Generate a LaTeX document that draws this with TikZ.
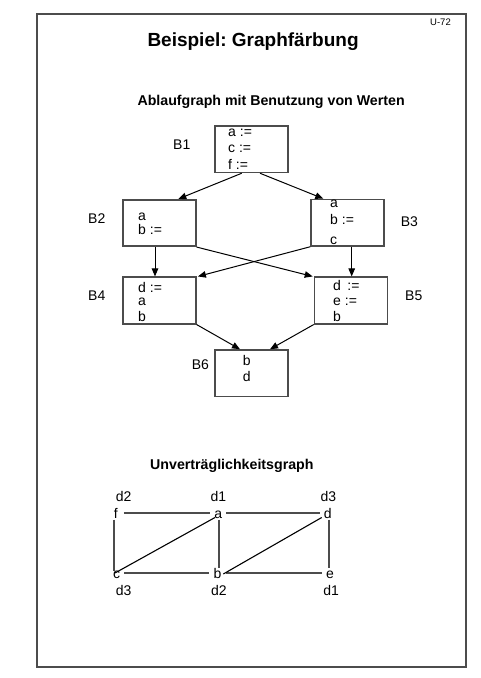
\documentclass[tikz,border=0pt]{standalone}
\usepackage{fontspec}
\setmainfont{Liberation Sans}
\usetikzlibrary{arrows.meta}
\definecolor{linegray}{gray}{0.3}
\frenchspacing
\begin{document}
\begin{tikzpicture}[x=1pt,y=-1pt,
  txt/.style={anchor=base west,inner sep=0pt,font=\fontsize{14}{16}\selectfont},
  ttl/.style={anchor=base west,inner sep=0pt,font=\fontsize{19}{22}\selectfont\bfseries},
  sub/.style={anchor=base west,inner sep=0pt,font=\fontsize{14.2}{17}\selectfont\bfseries},
  blk/.style={draw=linegray,line width=1.6pt,minimum width=73pt,minimum height=46.5pt,inner sep=0pt},
  flow/.style={-{Triangle[length=8pt,width=6.5pt]},line width=1pt},
  vtx/.style={anchor=base,inner sep=1pt,text height=1.1em,text depth=0pt,font=\fontsize{14}{16}\selectfont},
  clash/.style={draw=linegray,line width=2.8pt},
  diag/.style={line width=1.1pt}
]
\useasboundingbox (0,0) rectangle (480,678);
\fill[white] (0,0) rectangle (480,678);
\draw[linegray,line width=1.7pt] (36.7,14) rectangle (465.7,666.7);

% titles
\node[anchor=base west,inner sep=0pt,font=\fontsize{9.5}{11}\selectfont] (page) at (430,25) {U-72};
\node[ttl] (title) at (147.3,46.7) {Beispiel: Graphfärbung};
\node[sub] (sub1) at (137.3,105) {Ablaufgraph mit Benutzung von Werten};
\node[sub] (sub2) at (150,469) {Unverträglichkeitsgraph};

% blocks
\node[blk] (B1) at (251.3,149.2) {};
\node[blk] (B2) at (159.3,223) {};
\node[blk] (B3) at (347.5,222.7) {};
\node[blk] (B4) at (159.3,300.5) {};
\node[blk] (B5) at (351,300.5) {};
\node[blk] (B6) at (251.3,373.3) {};

% block labels
\node[txt] (l1) at (173,149) {B1};
\node[txt] (l2) at (88,223.3) {B2};
\node[txt] (l3) at (400.7,226.7) {B3};
\node[txt] (l4) at (88,300.7) {B4};
\node[txt] (l5) at (405,300.7) {B5};
\node[txt] (l6) at (191.7,369) {B6};

% block contents
\node[txt] (t11) at (228,136.7) {a :=};
\node[txt] (t12) at (228,152.3) {c :=};
\node[txt] (t13) at (228,169.3) {f :=};
\node[txt] (t21) at (138,220) {a};
\node[txt] (t22) at (138,234) {b :=};
\node[txt] (t31) at (330,207.3) {a};
\node[txt] (t32) at (330,224) {b :=};
\node[txt] (t33) at (330,244) {c};
\node[txt] (t41) at (138,292.3) {d :=};
\node[txt] (t42) at (138,305) {a};
\node[txt] (t43) at (138,321.7) {b};
\node[txt] (t51) at (333,290) {d\hspace{2.5pt} :=};
\node[txt] (t52) at (333,305) {e :=};
\node[txt] (t53) at (333,321.7) {b};
\node[txt] (t61) at (242.7,365) {b};
\node[txt] (t62) at (242.7,381.7) {d};

% flow arrows
\draw[flow] ([xshift=-9.6pt]B1.south) -- ([xshift=19pt]B2.north);
\draw[flow] ([xshift=8.7pt]B1.south) -- ([xshift=-24.2pt]B3.north);
\draw[flow] ([xshift=-4.3pt]B2.south) -- ([xshift=-4.3pt]B4.north);
\draw[flow] ([xshift=4.2pt]B3.south) -- ([xshift=4.2pt]B3.south |- B5.north);
\draw[flow] (B2.south east) -- ([xshift=-1pt]B5.north west);
\draw[flow] (B3.south west) -- ([xshift=1.3pt]B4.north east);
\draw[flow] (B4.south east) -- ([xshift=-11.3pt]B6.north);
\draw[flow] (B5.south west) -- ([xshift=18.7pt]B6.north);

% interference graph
\node[vtx] (f) at (115.7,518.5) {f};
\node[vtx] (a) at (218.3,518.5) {a};
\node[vtx] (d) at (327.7,518.5) {d};
\node[vtx] (c) at (116.7,578.5) {c};
\node[vtx] (b) at (217.5,578.5) {b};
\node[vtx] (e) at (330,578.5) {e};

\node[vtx] (cf) at (123.7,501.7) {d2};
\node[vtx] (ca) at (218.3,501.7) {d1};
\node[vtx] (cd) at (328.3,501.7) {d3};
\node[vtx] (cc) at (123.7,595.7) {d3};
\node[vtx] (cb) at (218.8,595.7) {d2};
\node[vtx] (ce) at (331.2,595.7) {d1};

\draw[clash,shorten <=5pt,shorten >=3pt] (f) -- (a);
\draw[clash,shorten <=3pt,shorten >=3pt] (a) -- (d);
\draw[clash,shorten <=3pt,shorten >=3pt] (c) -- (b);
\draw[clash,shorten <=3pt,shorten >=3pt] (b) -- (e);
\draw[clash,shorten >=-5pt] ([xshift=-1.7pt]f.south) -- ([xshift=-2.7pt]c.north);
\draw[clash,shorten >=-2pt] ([xshift=0.7pt]a.south) -- ([xshift=1.5pt]b.north);
\draw[clash,shorten >=-2pt] ([xshift=1.3pt]d.south) -- ([xshift=-1pt]e.north);
\draw[diag] ([xshift=-1.7pt,yshift=0pt]c.center) -- ([xshift=-3.3pt,yshift=-4.5pt]a.center);
\draw[diag] ([xshift=5.8pt,yshift=-1pt]b.center) -- ([xshift=-6pt,yshift=-4.5pt]d.center);
\end{tikzpicture}
\end{document}
